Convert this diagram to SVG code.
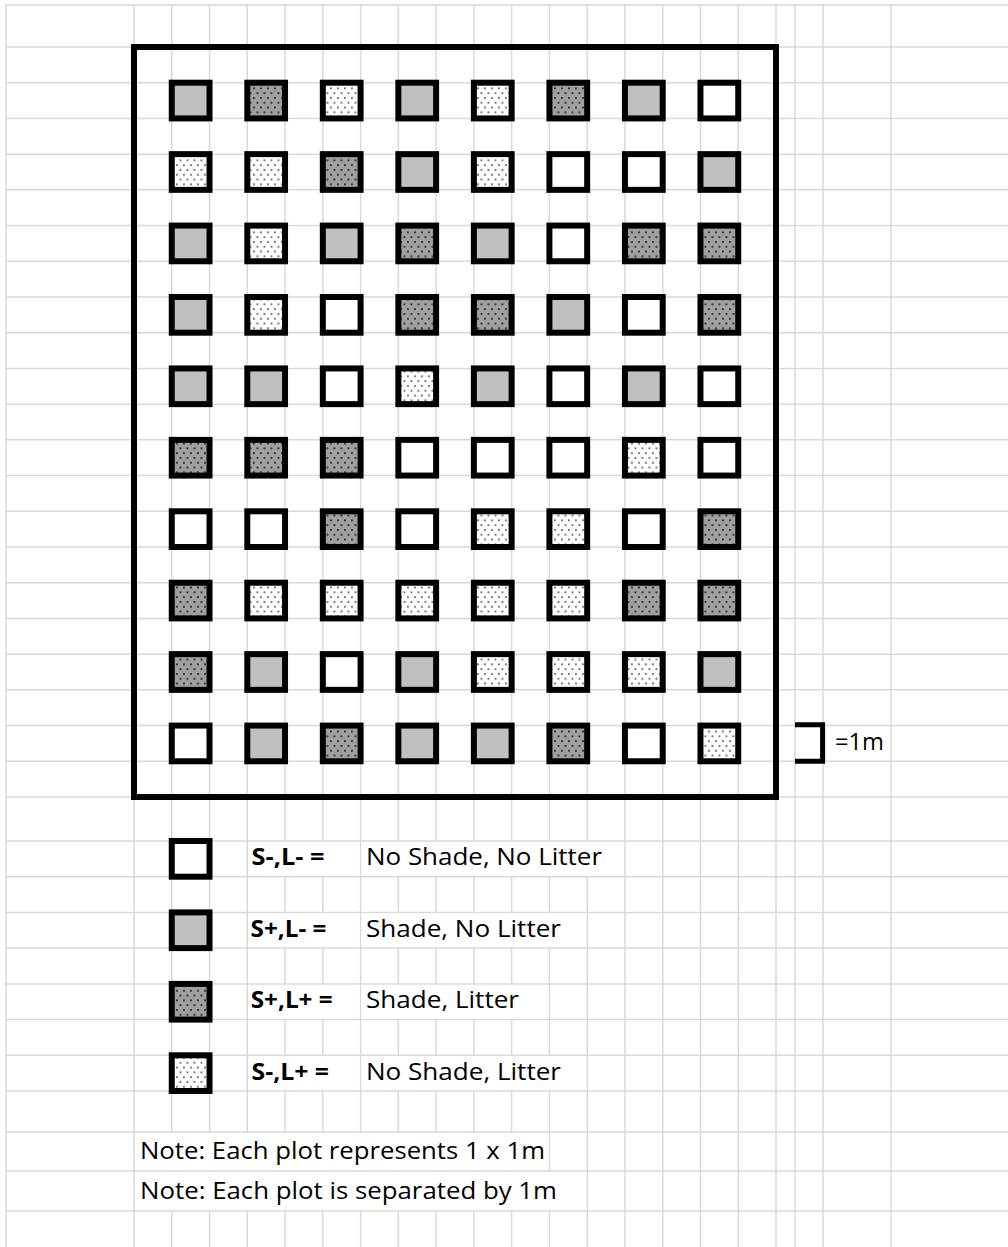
<svg xmlns="http://www.w3.org/2000/svg" width="1008" height="1247" viewBox="0 0 1008 1247">
<style>
.grid{stroke:#d9d9d9;stroke-width:1.5;fill:none}
.mask{fill:#ffffff}
.frame{fill:none;stroke:#000;stroke-width:6}
.p{stroke:#000;stroke-width:6}
.w{fill:#ffffff}
.g{fill:#c0c0c0}
.d{fill:url(#dk)}
.l{fill:url(#lt)}
.t{font-family:"Open Sans","Liberation Sans",sans-serif;font-size:23.5px;fill:#000}
.b{font-weight:bold}
</style>
<defs>
<pattern id="dk" width="7" height="9.6" patternUnits="userSpaceOnUse">
<rect width="7" height="9.6" fill="#a0a0a0"/>
<rect x="1" y="1" width="1.9" height="1.9" fill="#333333"/>
<rect x="4.5" y="5.8" width="1.9" height="1.9" fill="#333333"/>
</pattern>
<pattern id="lt" width="7" height="9.6" patternUnits="userSpaceOnUse">
<rect width="7" height="9.6" fill="#ffffff"/>
<rect x="1" y="1" width="1.9" height="1.9" fill="#777777"/>
<rect x="4.5" y="5.8" width="1.9" height="1.9" fill="#777777"/>
</pattern>
</defs>
<rect width="1008" height="1247" fill="#ffffff"/>
<g id="gridlines" class="grid">
<path d="M6,5V1247M134,5V1247M171.76,5V1247M209.53,5V1247M247.29,5V1247M285.06,5V1247M322.82,5V1247M360.59,5V1247M398.35,5V1247M436.12,5V1247M473.88,5V1247M511.65,5V1247M549.41,5V1247M587.18,5V1247M624.94,5V1247M662.71,5V1247M700.47,5V1247M738.24,5V1247M776,5V1247M795,5V1247M823,5V1247M891,5V1247"/>
<path d="M6,5H1008M6,47H1008M6,82.71H1008M6,118.43H1008M6,154.14H1008M6,189.86H1008M6,225.57H1008M6,261.29H1008M6,297H1008M6,332.71H1008M6,368.43H1008M6,404.14H1008M6,439.86H1008M6,475.57H1008M6,511.29H1008M6,547H1008M6,582.71H1008M6,618.43H1008M6,654.14H1008M6,689.86H1008M6,725.57H1008M6,761.29H1008M6,797H1008M6,841H1008M6,876.7H1008M6,912.4H1008M6,948.1H1008M6,983.9H1008M6,1019.6H1008M6,1055.3H1008M6,1091H1008M6,1132H1008M6,1171H1008M6,1211H1008"/>
</g>
<g id="text-overflow-masks" class="mask">
<rect x="248.5" y="842" width="111" height="33.7"/>
<rect x="361.5" y="842" width="262.5" height="33.7"/>
<rect x="248.5" y="913.4" width="111" height="33.7"/>
<rect x="361.5" y="913.4" width="224.8" height="33.7"/>
<rect x="248.5" y="984.9" width="111" height="33.7"/>
<rect x="361.5" y="984.9" width="187" height="33.7"/>
<rect x="248.5" y="1056.3" width="111" height="33.7"/>
<rect x="361.5" y="1056.3" width="224.8" height="33.7"/>
<rect x="135" y="1133" width="413.5" height="37"/>
<rect x="135" y="1172" width="451.3" height="38"/>
</g>
<g id="field-frame">
<rect class="frame" x="134" y="47" width="642" height="750"/>
</g>
<g id="plots">
<g id="row1">
<rect class="p g" x="171.76" y="82.71" width="37.76" height="35.71"/>
<rect class="p d" x="247.29" y="82.71" width="37.76" height="35.71"/>
<rect class="p l" x="322.82" y="82.71" width="37.76" height="35.71"/>
<rect class="p g" x="398.35" y="82.71" width="37.76" height="35.71"/>
<rect class="p l" x="473.88" y="82.71" width="37.76" height="35.71"/>
<rect class="p d" x="549.41" y="82.71" width="37.76" height="35.71"/>
<rect class="p g" x="624.94" y="82.71" width="37.76" height="35.71"/>
<rect class="p w" x="700.47" y="82.71" width="37.76" height="35.71"/>
</g>
<g id="row2">
<rect class="p l" x="171.76" y="154.14" width="37.76" height="35.71"/>
<rect class="p l" x="247.29" y="154.14" width="37.76" height="35.71"/>
<rect class="p d" x="322.82" y="154.14" width="37.76" height="35.71"/>
<rect class="p g" x="398.35" y="154.14" width="37.76" height="35.71"/>
<rect class="p l" x="473.88" y="154.14" width="37.76" height="35.71"/>
<rect class="p w" x="549.41" y="154.14" width="37.76" height="35.71"/>
<rect class="p w" x="624.94" y="154.14" width="37.76" height="35.71"/>
<rect class="p g" x="700.47" y="154.14" width="37.76" height="35.71"/>
</g>
<g id="row3">
<rect class="p g" x="171.76" y="225.57" width="37.76" height="35.71"/>
<rect class="p l" x="247.29" y="225.57" width="37.76" height="35.71"/>
<rect class="p g" x="322.82" y="225.57" width="37.76" height="35.71"/>
<rect class="p d" x="398.35" y="225.57" width="37.76" height="35.71"/>
<rect class="p g" x="473.88" y="225.57" width="37.76" height="35.71"/>
<rect class="p w" x="549.41" y="225.57" width="37.76" height="35.71"/>
<rect class="p d" x="624.94" y="225.57" width="37.76" height="35.71"/>
<rect class="p d" x="700.47" y="225.57" width="37.76" height="35.71"/>
</g>
<g id="row4">
<rect class="p g" x="171.76" y="297" width="37.76" height="35.71"/>
<rect class="p l" x="247.29" y="297" width="37.76" height="35.71"/>
<rect class="p w" x="322.82" y="297" width="37.76" height="35.71"/>
<rect class="p d" x="398.35" y="297" width="37.76" height="35.71"/>
<rect class="p d" x="473.88" y="297" width="37.76" height="35.71"/>
<rect class="p g" x="549.41" y="297" width="37.76" height="35.71"/>
<rect class="p w" x="624.94" y="297" width="37.76" height="35.71"/>
<rect class="p d" x="700.47" y="297" width="37.76" height="35.71"/>
</g>
<g id="row5">
<rect class="p g" x="171.76" y="368.43" width="37.76" height="35.71"/>
<rect class="p g" x="247.29" y="368.43" width="37.76" height="35.71"/>
<rect class="p w" x="322.82" y="368.43" width="37.76" height="35.71"/>
<rect class="p l" x="398.35" y="368.43" width="37.76" height="35.71"/>
<rect class="p g" x="473.88" y="368.43" width="37.76" height="35.71"/>
<rect class="p w" x="549.41" y="368.43" width="37.76" height="35.71"/>
<rect class="p g" x="624.94" y="368.43" width="37.76" height="35.71"/>
<rect class="p w" x="700.47" y="368.43" width="37.76" height="35.71"/>
</g>
<g id="row6">
<rect class="p d" x="171.76" y="439.86" width="37.76" height="35.71"/>
<rect class="p d" x="247.29" y="439.86" width="37.76" height="35.71"/>
<rect class="p d" x="322.82" y="439.86" width="37.76" height="35.71"/>
<rect class="p w" x="398.35" y="439.86" width="37.76" height="35.71"/>
<rect class="p w" x="473.88" y="439.86" width="37.76" height="35.71"/>
<rect class="p w" x="549.41" y="439.86" width="37.76" height="35.71"/>
<rect class="p l" x="624.94" y="439.86" width="37.76" height="35.71"/>
<rect class="p w" x="700.47" y="439.86" width="37.76" height="35.71"/>
</g>
<g id="row7">
<rect class="p w" x="171.76" y="511.29" width="37.76" height="35.71"/>
<rect class="p w" x="247.29" y="511.29" width="37.76" height="35.71"/>
<rect class="p d" x="322.82" y="511.29" width="37.76" height="35.71"/>
<rect class="p w" x="398.35" y="511.29" width="37.76" height="35.71"/>
<rect class="p l" x="473.88" y="511.29" width="37.76" height="35.71"/>
<rect class="p l" x="549.41" y="511.29" width="37.76" height="35.71"/>
<rect class="p w" x="624.94" y="511.29" width="37.76" height="35.71"/>
<rect class="p d" x="700.47" y="511.29" width="37.76" height="35.71"/>
</g>
<g id="row8">
<rect class="p d" x="171.76" y="582.71" width="37.76" height="35.71"/>
<rect class="p l" x="247.29" y="582.71" width="37.76" height="35.71"/>
<rect class="p l" x="322.82" y="582.71" width="37.76" height="35.71"/>
<rect class="p l" x="398.35" y="582.71" width="37.76" height="35.71"/>
<rect class="p l" x="473.88" y="582.71" width="37.76" height="35.71"/>
<rect class="p l" x="549.41" y="582.71" width="37.76" height="35.71"/>
<rect class="p d" x="624.94" y="582.71" width="37.76" height="35.71"/>
<rect class="p d" x="700.47" y="582.71" width="37.76" height="35.71"/>
</g>
<g id="row9">
<rect class="p d" x="171.76" y="654.14" width="37.76" height="35.71"/>
<rect class="p g" x="247.29" y="654.14" width="37.76" height="35.71"/>
<rect class="p w" x="322.82" y="654.14" width="37.76" height="35.71"/>
<rect class="p g" x="398.35" y="654.14" width="37.76" height="35.71"/>
<rect class="p l" x="473.88" y="654.14" width="37.76" height="35.71"/>
<rect class="p l" x="549.41" y="654.14" width="37.76" height="35.71"/>
<rect class="p l" x="624.94" y="654.14" width="37.76" height="35.71"/>
<rect class="p g" x="700.47" y="654.14" width="37.76" height="35.71"/>
</g>
<g id="row10">
<rect class="p w" x="171.76" y="725.57" width="37.76" height="35.71"/>
<rect class="p g" x="247.29" y="725.57" width="37.76" height="35.71"/>
<rect class="p d" x="322.82" y="725.57" width="37.76" height="35.71"/>
<rect class="p g" x="398.35" y="725.57" width="37.76" height="35.71"/>
<rect class="p g" x="473.88" y="725.57" width="37.76" height="35.71"/>
<rect class="p d" x="549.41" y="725.57" width="37.76" height="35.71"/>
<rect class="p w" x="624.94" y="725.57" width="37.76" height="35.71"/>
<rect class="p l" x="700.47" y="725.57" width="37.76" height="35.71"/>
</g>
</g>
<g id="scale">
<path d="M795,724.8H822.6V761.3H795" fill="none" stroke="#000" stroke-width="5"/>
<text class="t" x="835" y="750" textLength="49" lengthAdjust="spacingAndGlyphs">=1m</text>
</g>
<g id="legend">
<g id="legend-s-l-">
<rect class="p w" x="171.76" y="841" width="37.76" height="35.7"/>
<text class="t b" x="251.5" y="865" textLength="73" lengthAdjust="spacingAndGlyphs">S-,L- =</text>
<text class="t" x="366" y="865" textLength="236" lengthAdjust="spacingAndGlyphs">No Shade, No Litter</text>
</g>
<g id="legend-s+l-">
<rect class="p g" x="171.76" y="912.4" width="37.76" height="35.7"/>
<text class="t b" x="250.5" y="936.5" textLength="76" lengthAdjust="spacingAndGlyphs">S+,L- =</text>
<text class="t" x="366" y="936.5" textLength="195" lengthAdjust="spacingAndGlyphs">Shade, No Litter</text>
</g>
<g id="legend-s+l+">
<rect class="p d" x="171.76" y="983.9" width="37.76" height="35.7"/>
<text class="t b" x="250.7" y="1008" textLength="82" lengthAdjust="spacingAndGlyphs">S+,L+ =</text>
<text class="t" x="366" y="1008" textLength="153" lengthAdjust="spacingAndGlyphs">Shade, Litter</text>
</g>
<g id="legend-s-l+">
<rect class="p l" x="171.76" y="1055.3" width="37.76" height="35.7"/>
<text class="t b" x="251.5" y="1080" textLength="77.5" lengthAdjust="spacingAndGlyphs">S-,L+ =</text>
<text class="t" x="366" y="1080" textLength="195" lengthAdjust="spacingAndGlyphs">No Shade, Litter</text>
</g>
</g>
<g id="notes">
<text class="t" x="140" y="1159" textLength="405" lengthAdjust="spacingAndGlyphs">Note: Each plot represents 1 x 1m</text>
<text class="t" x="140" y="1199" textLength="417" lengthAdjust="spacingAndGlyphs">Note: Each plot is separated by 1m</text>
</g>
<g id="connectors"></g>
</svg>
